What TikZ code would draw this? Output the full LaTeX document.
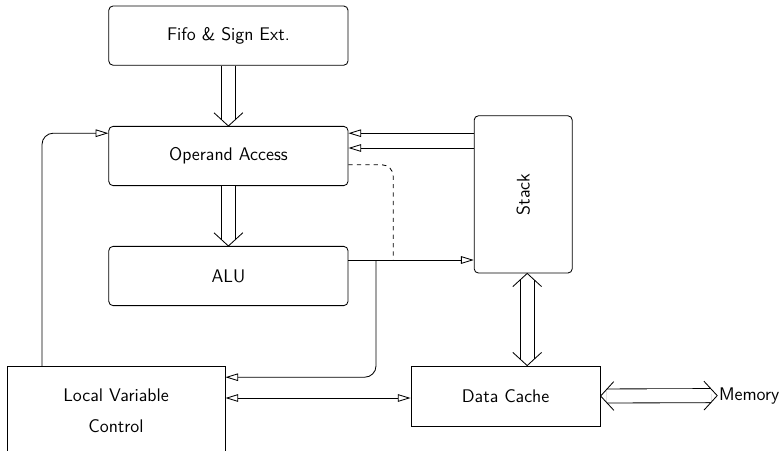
\documentclass[tikz,border=0pt]{standalone}
\usetikzlibrary{arrows.meta}
% straight open chevron for the double buses
\pgfdeclarearrow{
  name = Chevron,
  parameters = {\the\pgfarrowlength,\the\pgfarrowwidth},
  setup code = {%
    \pgfarrowssettipend{0pt}%
    \pgfarrowssetlineend{-0.47\pgfarrowlength}%
    \pgfarrowssetbackend{-\pgfarrowlength}%
    \pgfarrowssavethe\pgfarrowlength
    \pgfarrowssavethe\pgfarrowwidth
  },
  drawing code = {%
    \pgfsetlinewidth{0.6pt}%
    \pgfpathmoveto{\pgfqpoint{-\pgfarrowlength}{0.5\pgfarrowwidth}}%
    \pgfpathlineto{\pgfpointorigin}%
    \pgfpathlineto{\pgfqpoint{-\pgfarrowlength}{-0.5\pgfarrowwidth}}%
    \pgfusepathqstroke
  },
  defaults = {length=0.33cm,width=0.72cm}
}
\begin{document}
\begin{tikzpicture}[font=\sffamily\fontsize{13}{16}\selectfont,line width=0.6pt,
  unit/.style={draw,rounded corners=3pt,minimum width=5.98cm,minimum height=1.48cm},
  block/.style={draw,minimum height=1.5cm},
  sig/.style={-{Triangle[open,length=0.32cm,width=0.19cm]}},
  sigb/.style={{Triangle[open,length=0.32cm,width=0.19cm]}-{Triangle[open,length=0.32cm,width=0.19cm]}},
  bus/.style={double,double distance=0.33cm,-Chevron},
  busb/.style={double,double distance=0.33cm,Chevron-Chevron}]
\useasboundingbox (0,0) rectangle (19.6,-11.25);
% pipeline
\node[unit] (fifo) at (5.71,-0.89) {Fifo \& Sign Ext.};
\node[unit] (oper) at (5.71,-3.9) {Operand Access};
\node[unit] (alu) at (5.71,-6.9) {ALU};
\node[draw,rounded corners=3pt,minimum width=3.93cm,minimum height=2.45cm,rotate=90] (stack) at (13.08,-4.86) {Stack};
\node[block,minimum width=5.45cm,minimum height=2.25cm,align=center] (lv) at (2.9,-10.28) {Local Variable\\[6pt]Control};
\node[block,minimum width=4.73cm] (dc) at (12.64,-9.9) {Data Cache};
\node[inner sep=1pt,anchor=west] (mem) at (17.93,-9.9) {Memory};
% buses
\draw[bus] (fifo) -- (oper);
\draw[bus] (oper) -- (alu);
\draw[busb] (stack.west -| 13.18,0) -- (dc.north -| 13.18,0);
\draw[busb] (dc.east) -- ([yshift=0.01cm]mem.west);
% signals
\draw[sig] (stack.north |- 0,-3.33) -- (oper.east |- 0,-3.33);
\draw[sig] (stack.north |- 0,-3.7) -- (oper.east |- 0,-3.7);
\draw[dashed,rounded corners=8pt] (oper.east |- 0,-4.12) -| (9.83,-6.5);
\draw[sig] (alu.east |- 0,-6.5) -- (stack.north |- 0,-6.5);
\draw[sig,rounded corners=8pt] (9.4,-6.5) |- (lv.east |- 0,-9.43);
\draw[sig,rounded corners=8pt] (lv.north -| 1.05,0) |- (oper.west |- 0,-3.33);
\draw[sigb] (lv.east |- 0,-9.95) -- (dc.west |- 0,-9.95);
\end{tikzpicture}
\end{document}
